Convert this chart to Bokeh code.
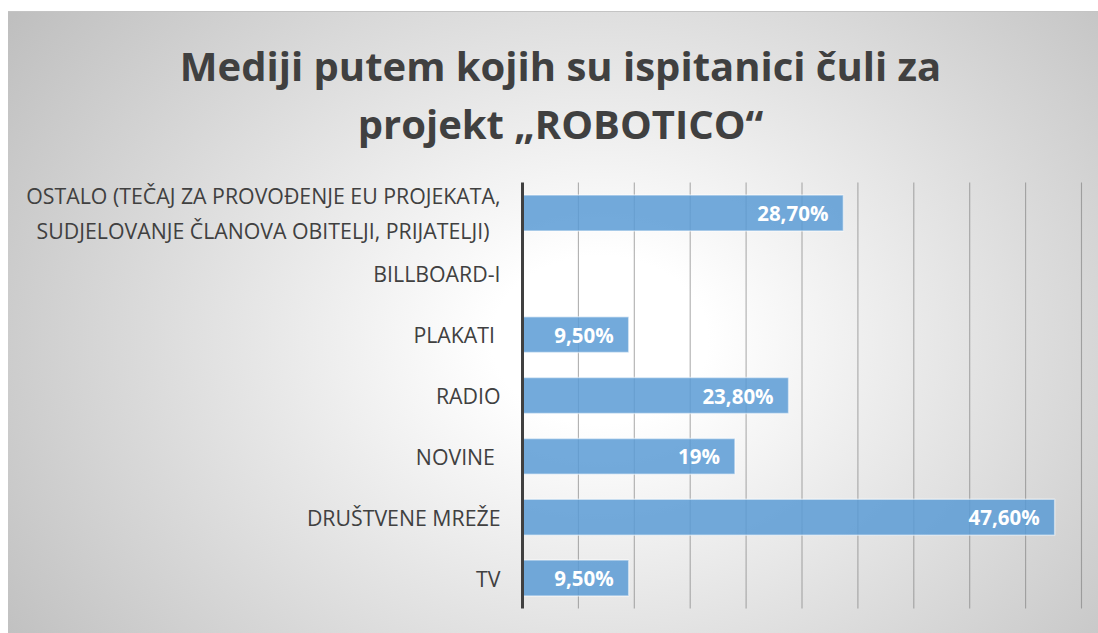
from bokeh.plotting import figure
from bokeh.models import Range1d, FixedTicker, ColumnDataSource
from bokeh.embed import file_html
from bokeh.resources import INLINE
from bokeh.core.properties import value

# ---- data (top-to-bottom order as in the chart) ----
categories = [
    "OSTALO (TEČAJ ZA PROVOĐENJE EU PROJEKATA,\nSUDJELOVANJE ČLANOVA OBITELJI, PRIJATELJI)  ",
    "BILLBOARD-I",
    "PLAKATI ",
    "RADIO",
    "NOVINE ",
    "DRUŠTVENE MREŽE",
    "TV",
]
percent = [28.7, 0.0, 9.5, 23.8, 19.0, 47.6, 9.5]
value_labels = ["28,70%", "", "9,50%", "23,80%", "19%", "47,60%", "9,50%"]
grid_ticks = [5, 10, 15, 20, 25, 30, 35, 40, 45, 50]
title_lines = ["Mediji putem kojih su ispitanici čuli za", "projekt „ROBOTICO“"]

# ---- layout constants (pixels) ----
W, H = 1098, 633
X0_PX, X50_PX = 522, 1081          # plot area left / right (0 % and 50 %)
TOP_PX, BOT_PX = 182, 608          # plot area top / bottom
TITLE_X_PX = 560
TITLE_Y_PX = [65, 123]

FONT = "Open Sans"
TEXT_COLOR = "#404040"

n = len(categories)
y_pos = list(range(n, 0, -1))      # top category at n, bottom at 1
px_per_pct = (X50_PX - X0_PX) / 50.0
band = (BOT_PX - TOP_PX) / n
y_lo, y_hi = 0.5, n + 0.5
x_range = Range1d(-X0_PX / px_per_pct, (W - X0_PX) / px_per_pct)
y_range = Range1d(y_lo - (H - BOT_PX) / band, y_hi + TOP_PX / band)

src = ColumnDataSource(dict(y=y_pos, val=percent, lab=value_labels))

p = figure(width=W, height=H, x_range=x_range, y_range=y_range,
           output_backend="svg", toolbar_location=None, min_border=0)
p.background_fill_color = None
p.border_fill_color = None
p.outline_line_color = None
p.xgrid.visible = False
p.ygrid.visible = False
p.xaxis.visible = False
p.styles = {
    "background": (
        "linear-gradient(to right, #ffffff 0px, #ffffff 8px, rgba(255,255,255,0) 8px),"
        "linear-gradient(to bottom, #ffffff 0px, #ffffff 11px, #c4c4c4 11px, #c4c4c4 12px, rgba(255,255,255,0) 12px),"
        "radial-gradient(ellipse 720px 560px at 600px 340px, #ffffff 0%, #ffffff 15%, #bfbfbf 100%)"
    )
}

# vertical gridlines (5 % steps) spanning the category band only
p.segment(x0=grid_ticks, y0=[y_lo] * len(grid_ticks), x1=grid_ticks, y1=[y_hi] * len(grid_ticks),
          line_color="#7a7a7a", line_alpha=0.6, line_width=1.1, level="underlay")

p.hbar(y="y", left=0, right="val", height=0.59, source=src,
       fill_color="#5b9bd5", fill_alpha=0.85,
       line_color="white", line_alpha=0.5, line_width=1.5)

p.text(x="val", y="y", text="lab", source=src,
       x_offset=-15, text_align="right", text_baseline="middle",
       text_color="white", text_font=value(FONT), text_font_style="bold",
       text_font_size="20.5px")

# category axis drawn at 0 %
ax = p.yaxis[0]
ax.fixed_location = 0
ax.bounds = (y_lo, y_hi)
ax.ticker = FixedTicker(ticks=y_pos)
ax.major_label_overrides = {y: c for y, c in zip(y_pos, categories)}
ax.axis_line_color = TEXT_COLOR
ax.axis_line_width = 3
ax.major_tick_line_color = None
ax.minor_tick_line_color = None
ax.major_tick_out = 0
ax.major_tick_in = 0
ax.major_label_standoff = 22
ax.major_label_text_font = FONT
ax.major_label_text_font_size = "21.3px"
ax.major_label_text_color = TEXT_COLOR

# title (two centred lines)
tx = (TITLE_X_PX - X0_PX) / px_per_pct
ty = [y_range.end - py / band for py in TITLE_Y_PX]
p.text(x=[tx, tx], y=ty, text=title_lines,
       text_align="center", text_baseline="middle",
       text_color=TEXT_COLOR, text_font=value(FONT), text_font_style="bold",
       text_font_size="40px")

open("out.html", "w").write(file_html(p, INLINE))
